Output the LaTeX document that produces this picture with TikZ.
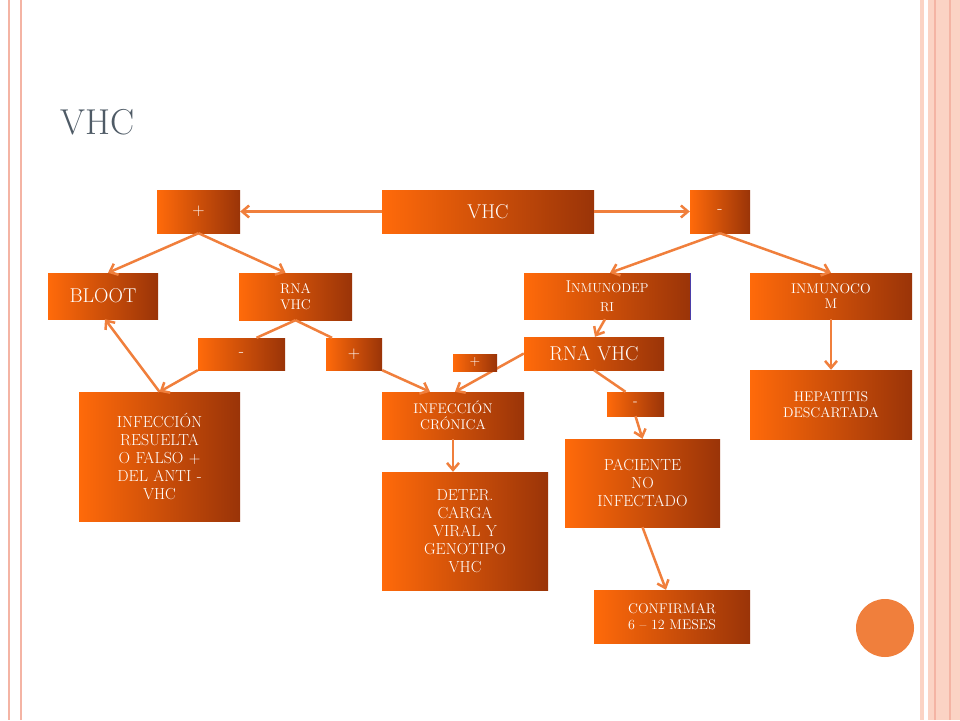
\documentclass[tikz,border=0pt]{standalone}
\usetikzlibrary{arrows.meta,calc}
\definecolor{arr}{HTML}{F07F3C}
\definecolor{boxL}{HTML}{FF6A0A}
\definecolor{boxR}{HTML}{9A3408}
\definecolor{ttl}{HTML}{4F5B66}
\definecolor{pinkline}{HTML}{F4B4A4}
\definecolor{band}{HTML}{FBD3C4}
\tikzset{
  bx/.style={inner sep=1pt,align=center,text=white,left color=boxL,right color=boxR},
  conn/.style={draw=arr,line width=2.5pt},
  ar/.style={conn,-{Straight Barb[length=7pt,width=12pt,line width=2.5pt]}},
}
\newcommand{\bxat}[7]{% name, l,t,r,b, fontsize, text
  \pgfmathsetmacro{\bw}{#4-#2}\pgfmathsetmacro{\bh}{#5-#3}%
  \pgfmathsetmacro{\tw}{#4-#2-4}\pgfmathsetmacro{\bl}{#6*1.12}%
  \pgfmathsetmacro{\cx}{(#2+#4)/2}\pgfmathsetmacro{\cy}{(#3+#5)/2}%
  \node[bx,minimum width=\bw pt,minimum height=\bh pt,text width=\tw pt,
    font=\fontsize{#6pt}{\bl pt}\selectfont] (#1) at (\cx,\cy) {#7};}
\begin{document}
\begin{tikzpicture}[x=1pt,y=-1pt]
\useasboundingbox (0,0) rectangle (960,720);
\fill[white] (0,0) rectangle (960,720);
\draw[pinkline,line width=1.5pt] (9,0) -- (9,720);
\draw[pinkline,line width=1.5pt] (21,0) -- (21,720);
\fill[band] (920,0) rectangle (960,720);
\fill[white] (924,0) rectangle (928,720);
\draw[pinkline,line width=1.5pt] (935,0) -- (935,720);
\draw[pinkline,line width=1.5pt] (950,0) -- (950,720);
\node[anchor=west,text=ttl,font=\fontsize{36pt}{38pt}\selectfont] (title) at (57,122) {VHC};
\bxat{p1}{157}{190}{240}{233}{17}{+}
\bxat{vhc}{382}{190}{594}{233}{20}{VHC}
\bxat{m1}{690}{190}{750}{233}{17}{-}
\bxat{bloot}{48}{273}{158}{319}{20}{BLOOT}
\bxat{rna1}{239}{273}{352}{320}{14}{RNA\\VHC}
\node[draw=blue!50!gray,line width=1pt,minimum width=166pt,minimum height=46pt] (inmdframe) at (607,296) {};
\bxat{inmd}{524}{273}{690}{319}{17}{I{\fontsize{13pt}{14pt}\selectfont NMUNODEP}\\{\fontsize{13pt}{14pt}\selectfont RI}}
\bxat{inmc}{750}{273}{912}{319}{14}{INMUNOCO\\M}
\bxat{m2}{198}{338}{285}{370}{17}{-}
\bxat{p2}{326}{338}{382}{370}{17}{+}
\bxat{rna2}{524}{337}{664}{370}{20}{RNA VHC}
\bxat{infres}{79}{392}{240}{521}{16}{INFECCIÓN\\RESUELTA\\O FALSO +\\DEL ANTI -\\VHC}
\bxat{infcron}{382}{392}{524}{439}{14}{INFECCIÓN\\CRÓNICA}
\bxat{m3}{607}{392}{664}{416}{14}{-}
\bxat{hep}{750}{370}{912}{439}{14}{HEPATITIS\\DESCARTADA}
\bxat{deter}{382}{472}{548}{590}{16}{DETER.\\CARGA\\VIRAL Y\\GENOTIPO\\VHC}
\bxat{pac}{565}{439}{720}{527}{16}{PACIENTE\\NO\\INFECTADO}
\bxat{conf}{594}{590}{750}{643}{14}{CONFIRMAR\\6 -- 12 MESES}
\draw[ar] (vhc.west) -- (p1.east);
\draw[ar] (vhc.east) -- (m1.west);
\draw[ar] (p1.south) -- ($(bloot.north)+(5,0)$);
\draw[ar] (p1.south) -- ($(rna1.north)+(-10,0)$);
\draw[conn] (rna1.south) -- ($(m2.north)+(15,0)$);
\draw[conn] (rna1.south) -- ($(p2.north)+(-22,0)$);
\draw[ar] (m2.south west) -- (infres.north);
\draw[ar] (infres.north) -- ($(bloot.south)+(2,0)$);
\draw[ar] (p2.south east) -- ($(infcron.north)+(-23,0)$);
\draw[ar] (rna2.west) -- ($(infcron.north)+(2,0)$);
\bxat{p3}{453}{354}{497}{371}{14}{+}
\draw[ar] (m1.south) -- ($(inmd.north)+(3,0)$);
\draw[ar] (m1.south) -- (inmc.north);
\draw[ar] ($(inmd.south)+(-2,0)$) -- ($(rna2.north)+(1,0)$);
\draw[conn] (rna2.south) -- ($(m3.north)+(-10,0)$);
\draw[ar] (m3.south) -- (pac.north);
\draw[ar] (infcron.south) -- (infcron.south|-deter.north);
\draw[ar] (inmc.south) -- (hep.north);
\draw[ar] (pac.south) -- ($(conf.north)+(-6,0)$);
\fill[arr] (885,628) circle (29);
\end{tikzpicture}
\end{document}
